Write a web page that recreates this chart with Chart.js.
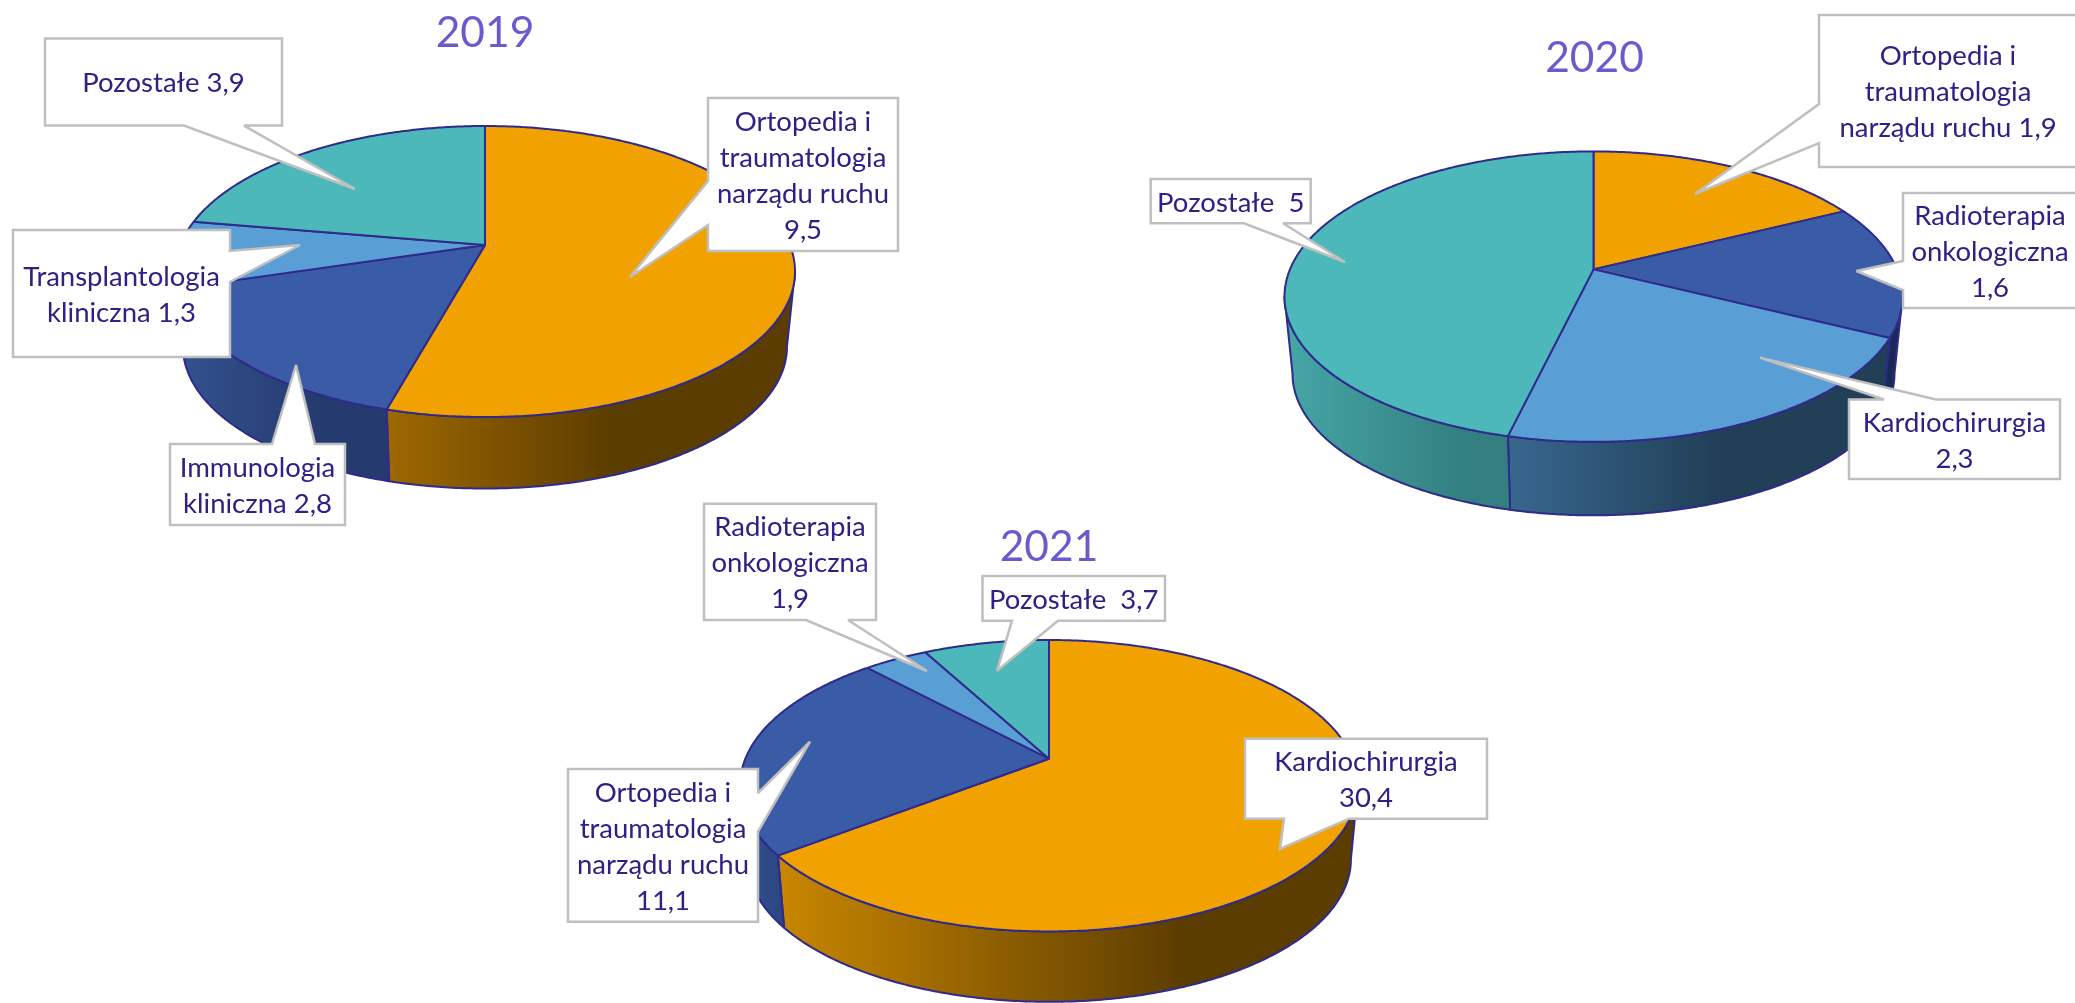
<!DOCTYPE html>
<html lang="pl"><head><meta charset="utf-8">
<script src="https://cdn.jsdelivr.net/npm/chart.js@4"></script>
<style>
html,body{margin:0;padding:0;background:#fff;width:2075px;height:1003px;overflow:hidden}
canvas{position:absolute;left:0;top:0}
</style></head><body>
<canvas id="c2019" width="2075" height="1003"></canvas>
<canvas id="c2020" width="2075" height="1003"></canvas>
<canvas id="c2021" width="2075" height="1003"></canvas>
<script>
// ---- data ----
const categories2019 = ['Ortopedia i traumatologia narządu ruchu','Immunologia kliniczna','Transplantologia kliniczna','Pozostałe'];
const values2019 = [9.5, 2.8, 1.3, 3.9];
const categories2020 = ['Ortopedia i traumatologia narządu ruchu','Radioterapia onkologiczna','Kardiochirurgia','Pozostałe'];
const values2020 = [1.9, 1.6, 2.3, 5];
const categories2021 = ['Kardiochirurgia','Ortopedia i traumatologia narządu ruchu','Radioterapia onkologiczna','Pozostałe'];
const values2021 = [30.4, 11.1, 1.9, 3.7];

const labelLines2019 = [['Ortopedia i','traumatologia','narządu ruchu','9,5'],['Immunologia','kliniczna 2,8'],['Transplantologia','kliniczna 1,3'],['Pozostałe 3,9']];
const labelLines2020 = [['Ortopedia i','traumatologia','narządu ruchu 1,9'],['Radioterapia','onkologiczna','1,6'],['Kardiochirurgia','2,3'],['Pozostałe  5']];
const labelLines2021 = [['Kardiochirurgia','30,4'],['Ortopedia i','traumatologia','narządu ruchu','11,1'],['Radioterapia','onkologiczna','1,9'],['Pozostałe  3,7']];

// ---- styles ----
const ORANGE='#F2A200', DBLUE='#3A5BA5', LBLUE='#5A9ED6', TEAL='#4DB8BA';
const faces2019=[ORANGE,DBLUE,LBLUE,TEAL], faces2020=[ORANGE,DBLUE,LBLUE,TEAL], faces2021=[ORANGE,DBLUE,LBLUE,TEAL];
const walls2019=[['#9E6800','#5C3D00',0.55],['#33528F','#253A6E',0.7],['#33528F','#33528F',1],['#3A8F90','#3A8F90',1]];
const walls2020=[['#A06C00','#5C3D00',0.6],['#1B2A55','#1B2A55',1],['#38678F','#213F57',0.55],['#46A6A6','#337F80',0.8]];
const walls2021=[['#C98700','#5C3D00',0.7],['#33528F','#2A4682',1],['#33528F','#33528F',1],['#3A8F90','#3A8F90',1]];
const OUTLINE='#2F2A8C', TEXT='#2E2085', TITLE='#6A5ACD', BOX='#BFBFBF';
const LABEL_FONT='27.5px Lato', TITLE_FONT='42.5px Lato', LINE_H=36;

// ---- layout of the 3D projection: apex, half-width, depth up/down, wall ----
const view2019={ax:485,ay:245,rx:310,up:119,down:172,shrink:0.974,drop:76,title:['2019',485,33]};
const view2020={ax:1593.5,ay:269.4,rx:309,up:118,down:172.4,shrink:0.974,drop:78,title:['2020',1594.5,58]};
const view2021={ax:1049,ay:758.7,rx:309,up:118.7,down:172.7,shrink:0.977,drop:74.4,title:['2021',1049,547]};

// callout boxes: x1,y1,x2,y2, side, base a, base b, tip x, tip y
const boxes2019=[
 [708,98,898,251,'L',181,225,630,277],
 [170,444,345,525,'T',272,315,296,365],
 [13,230,230,357,'R',251,282,300,245],
 [45,38.5,282,125.6,'B',184,244,355,189]];
const boxes2020=[
 [1819,15,2077,167,'L',104,143,1695,194],
 [1903,193,2077,308,'L',261,290,1856.5,271],
 [1849,399.5,2060,479,'T',1884,1936,1760,357.6],
 [1150.7,179,1310.7,223.3,'B',1244,1283,1345,262]];
const boxes2021=[
 [1245,738.7,1487,818.7,'B',1284,1349,1280,849],
 [568,769,758,921.7,'R',793,831.7,810,741.7],
 [704,503.7,876,620,'B',806,848,927,671],
 [982.5,576,1165,620.7,'B',1012,1058,997,670.7]];

// ---- perspective ----
function projector(v){
  const p=(v.down-v.up)/(v.down+v.up), q=v.up*(1+p), A=v.rx*Math.sqrt(1-p*p);
  const rim=(u,w)=>{const d=1-p*w;return [v.ax+A*u/d, v.ay+q*w/d];};
  const base=(u,w)=>{const r=rim(u,w);return [v.ax+(r[0]-v.ax)*v.shrink, v.ay+(r[1]-v.ay)*v.shrink+v.drop];};
  return {p,rim,base};
}
const perspectivePie={
  id:'perspectivePie',
  beforeDatasetsDraw(chart,args,o){
    const ctx=chart.ctx, P=projector(o.view), arcs=chart.getDatasetMeta(0).data;
    // side walls of the slices, from the library's arc angles
    const lo=Math.asin(P.p), hi=Math.PI-lo;
    arcs.forEach((a,i)=>{
      const s=Math.max(a.startAngle,lo), e=Math.min(a.endAngle,hi);
      if(e<=s) return;
      const top=[],bot=[],n=Math.max(2,Math.ceil((e-s)/0.01));
      for(let k=0;k<=n;k++){const t=s+(e-s)*k/n,u=Math.cos(t),w=Math.sin(t);top.push(P.rim(u,w));bot.push(P.base(u,w));}
      const xs=top.concat(bot).map(q=>q[0]), x0=Math.min(...xs), x1=Math.max(...xs);
      const g=ctx.createLinearGradient(x0,0,x1,0);
      g.addColorStop(0,o.walls[i][0]);g.addColorStop(o.walls[i][2],o.walls[i][1]);g.addColorStop(1,o.walls[i][1]);
      ctx.save();
      ctx.beginPath();
      top.forEach((q,k)=>k?ctx.lineTo(q[0],q[1]):ctx.moveTo(q[0],q[1]));
      bot.slice().reverse().forEach(q=>ctx.lineTo(q[0],q[1]));
      ctx.closePath();ctx.fillStyle=g;ctx.fill();
      ctx.strokeStyle=OUTLINE;ctx.lineWidth=2;ctx.lineJoin='round';ctx.stroke();
      ctx.restore();
    });
    // the library's arcs are then traced through the projection
    const a0=arcs[0], cx=a0.x, cy=a0.y, R=a0.outerRadius;
    const nLine=ctx.lineTo.bind(ctx), nMove=ctx.moveTo.bind(ctx);
    const m=(x,y)=>P.rim((x-cx)/R,(y-cy)/R);
    ctx.moveTo=(x,y)=>{const q=m(x,y);nMove(q[0],q[1]);};
    ctx.lineTo=(x,y)=>{const q=m(x,y);nLine(q[0],q[1]);};
    ctx.arc=(x,y,r,s,e,ccw)=>{
      const n=Math.max(1,Math.ceil(Math.abs(e-s)/0.01));
      for(let k=0;k<=n;k++){const t=s+(e-s)*k/n;const q=m(x+r*Math.cos(t),y+r*Math.sin(t));nLine(q[0],q[1]);}
    };
    chart.$unpatch=()=>{delete ctx.arc;delete ctx.lineTo;delete ctx.moveTo;};
  },
  afterDatasetsDraw(chart){ if(chart.$unpatch){chart.$unpatch();chart.$unpatch=null;} },
  afterDraw(chart,args,o){
    const ctx=chart.ctx, t=o.view.title;
    ctx.save();
    ctx.textAlign='center';ctx.textBaseline='middle';
    ctx.font=TITLE_FONT;ctx.fillStyle=TITLE;ctx.fillText(t[0],t[1],t[2]);
    o.boxes.forEach((b,i)=>{
      const [x1,y1,x2,y2,side,a,c,tx,ty]=b;
      ctx.beginPath();ctx.moveTo(x1,y1);
      if(side==='T'){ctx.lineTo(a,y1);ctx.lineTo(tx,ty);ctx.lineTo(c,y1);}
      ctx.lineTo(x2,y1);
      if(side==='R'){ctx.lineTo(x2,a);ctx.lineTo(tx,ty);ctx.lineTo(x2,c);}
      ctx.lineTo(x2,y2);
      if(side==='B'){ctx.lineTo(c,y2);ctx.lineTo(tx,ty);ctx.lineTo(a,y2);}
      ctx.lineTo(x1,y2);
      if(side==='L'){ctx.lineTo(x1,c);ctx.lineTo(tx,ty);ctx.lineTo(x1,a);}
      ctx.closePath();
      ctx.fillStyle='#FFFFFF';ctx.fill();
      ctx.strokeStyle=BOX;ctx.lineWidth=2.5;ctx.lineJoin='miter';ctx.miterLimit=2.5;ctx.stroke();
      const lines=o.labels[i], mx=(x1+x2)/2, my=(y1+y2)/2+1.5;
      ctx.font=LABEL_FONT;ctx.fillStyle=TEXT;
      lines.forEach((s,k)=>ctx.fillText(s,mx,my+(k-(lines.length-1)/2)*LINE_H));
    });
    ctx.restore();
  }
};
function draw(id,cats,vals,faces,walls,view,boxes,labels){
  new Chart(document.getElementById(id),{
    type:'pie',
    data:{labels:cats,datasets:[{data:vals,backgroundColor:faces,borderColor:OUTLINE,borderWidth:2,borderAlign:'center'}]},
    options:{responsive:false,animation:false,events:[],layout:{padding:0},
      plugins:{legend:{display:false},tooltip:{enabled:false},perspectivePie:{view,walls,boxes,labels}}},
    plugins:[perspectivePie]
  });
}
draw('c2019',categories2019,values2019,faces2019,walls2019,view2019,boxes2019,labelLines2019);
draw('c2020',categories2020,values2020,faces2020,walls2020,view2020,boxes2020,labelLines2020);
draw('c2021',categories2021,values2021,faces2021,walls2021,view2021,boxes2021,labelLines2021);
</script>
</body></html>
